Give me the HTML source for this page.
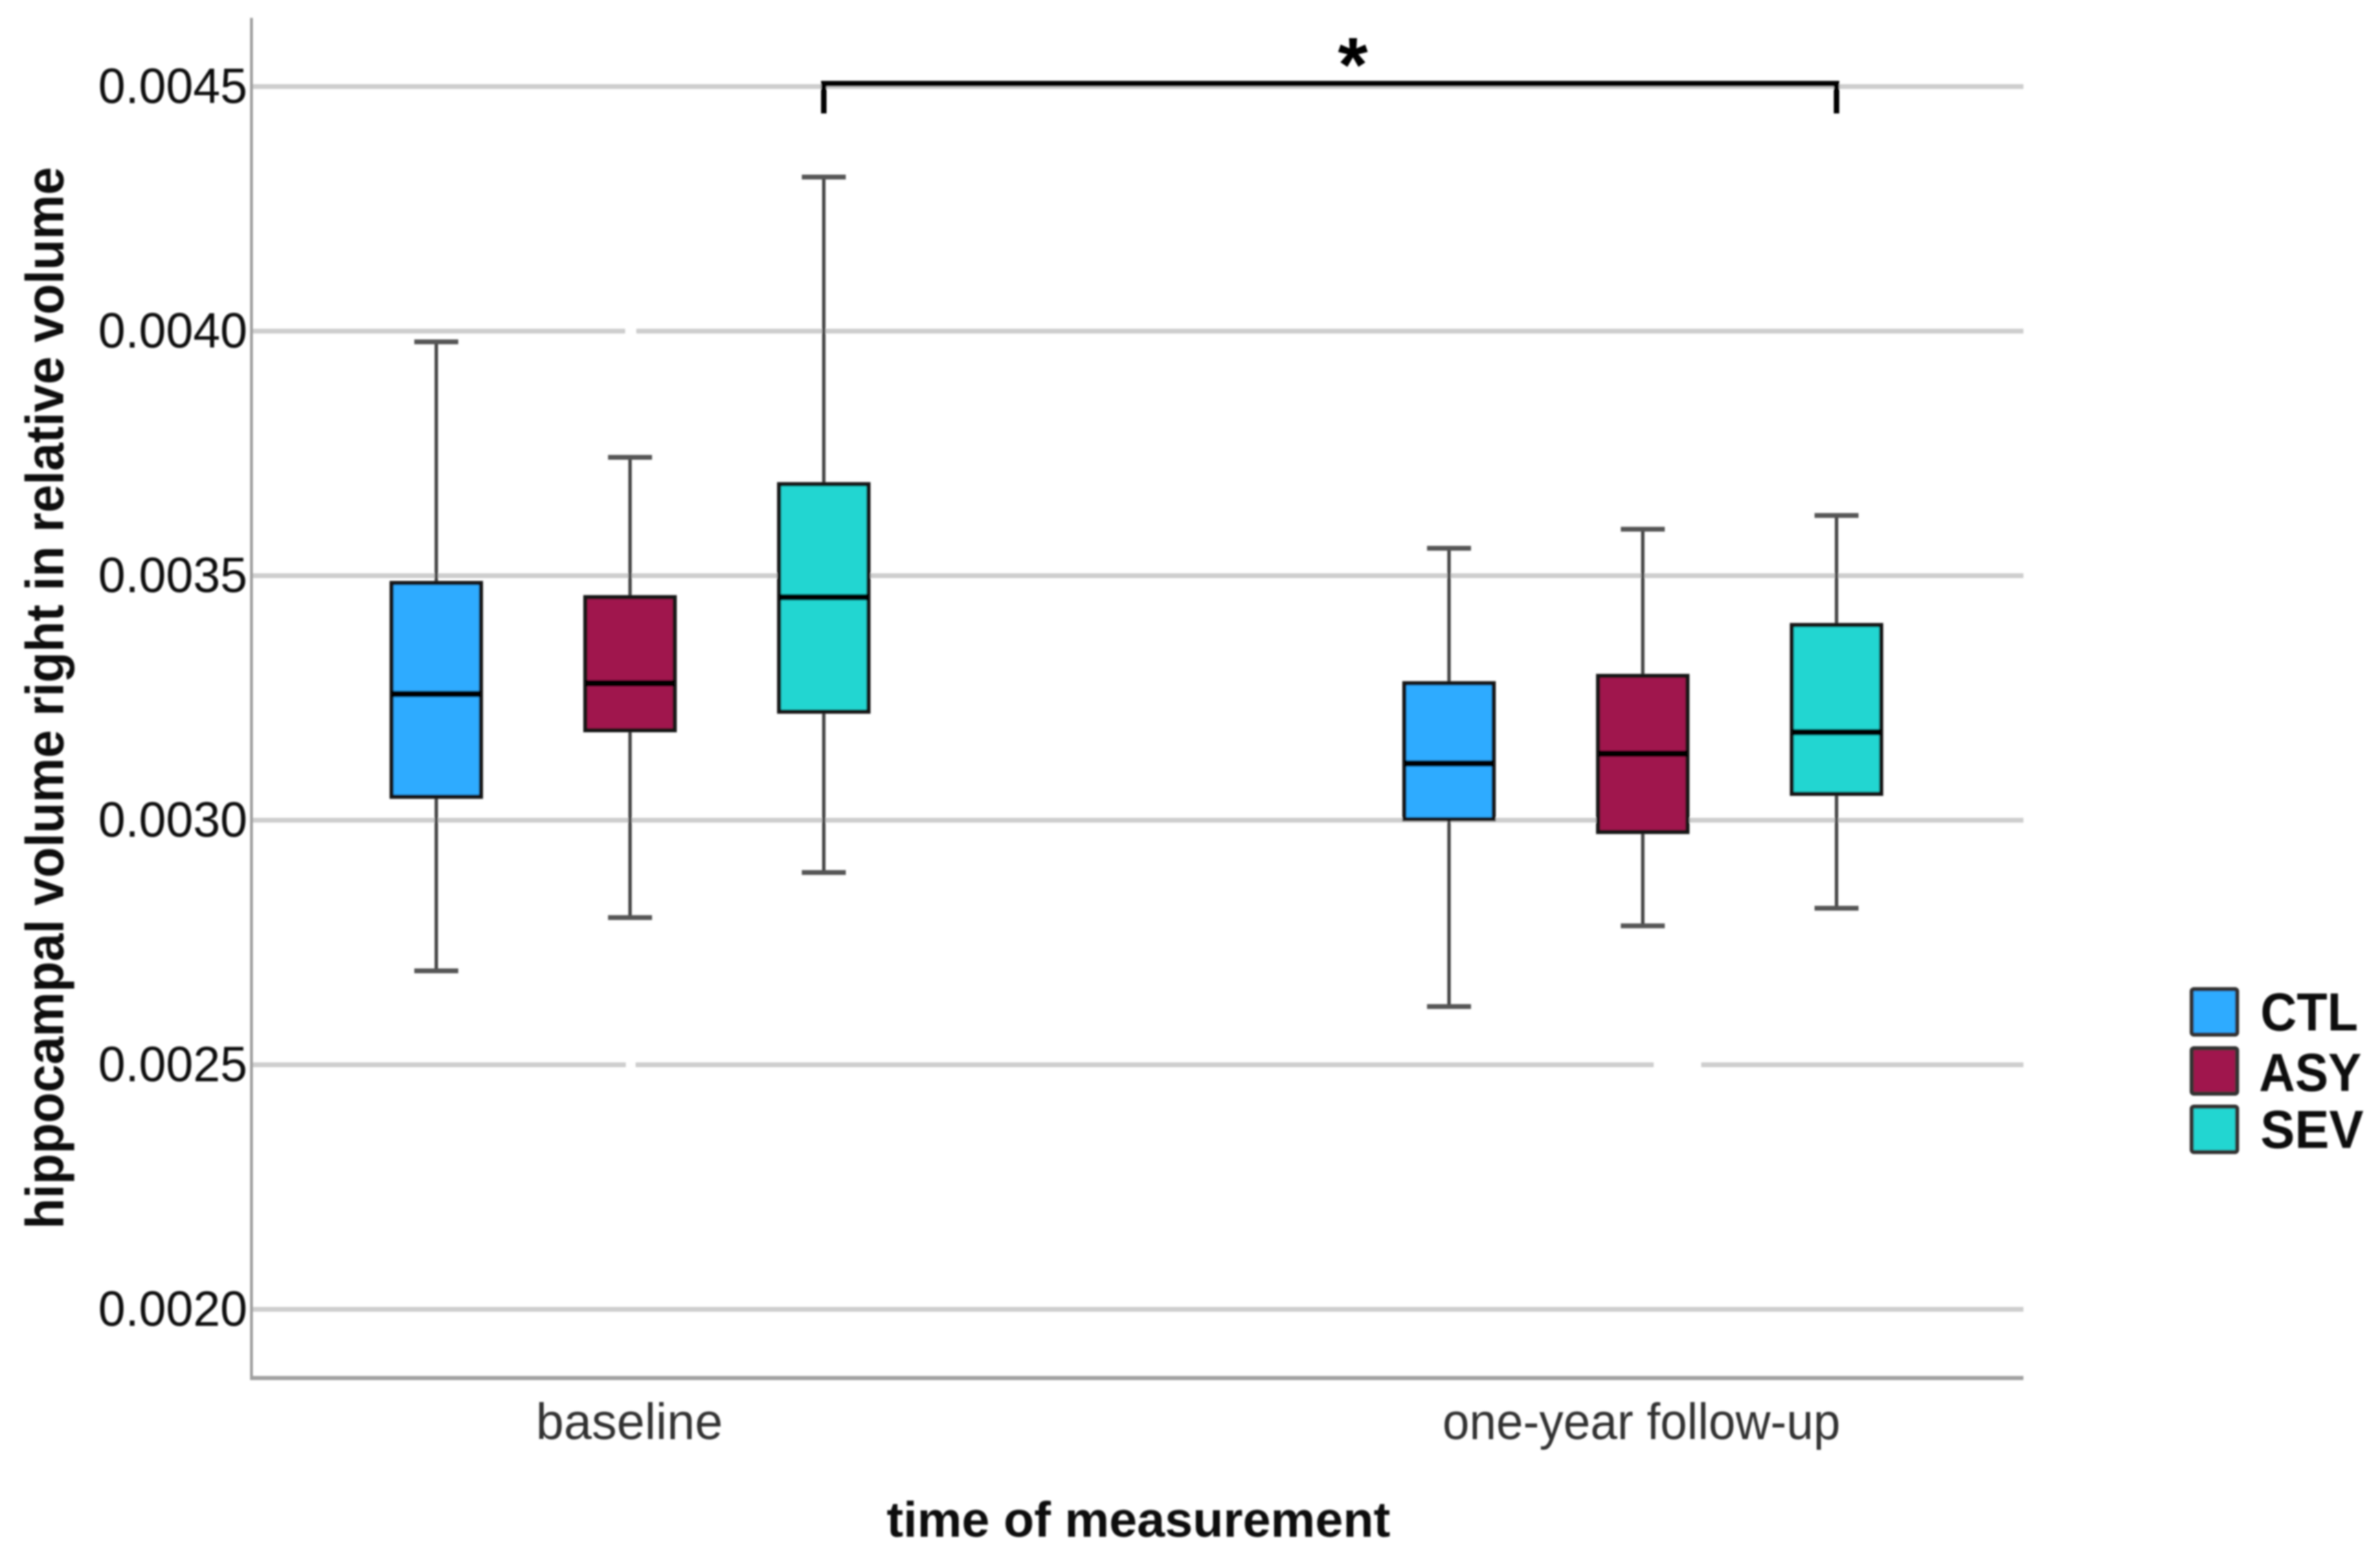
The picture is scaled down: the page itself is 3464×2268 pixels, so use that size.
<!DOCTYPE html>
<html lang="en">
<head>
<meta charset="utf-8">
<title>Hippocampal volume boxplot</title>
<style>
html,body{margin:0;padding:0;background:#fff;width:3464px;height:2268px;overflow:hidden}
svg{display:block}
text{font-family:"Liberation Sans",sans-serif}
</style>
</head>
<body>
<svg id="chart" xmlns="http://www.w3.org/2000/svg" width="3464" height="2268" viewBox="0 0 3464 2268">
  <defs>
    <filter id="soft" x="-2%" y="-2%" width="104%" height="104%">
      <feGaussianBlur stdDeviation="1.2"/>
    </filter>
  </defs>
  <rect x="0" y="0" width="3464" height="2268" fill="#fff"/>
  <g id="root" filter="url(#soft)">
    <g id="grid"></g>
    <g id="axes"></g>
    <g id="marks"></g>
    <g id="ticks"></g>
    <g id="cats"></g>
    <g id="bracket"></g>
    <g id="legend"></g>
    <text transform="translate(92,1016) rotate(-90)" text-anchor="middle" font-size="78" font-weight="700" fill="#111" textLength="1546" lengthAdjust="spacingAndGlyphs">hippocampal volume right in relative volume</text>
    <text x="1657" y="2237" text-anchor="middle" font-size="72" font-weight="700" fill="#111" textLength="733" lengthAdjust="spacingAndGlyphs">time of measurement</text>
  </g>
</svg>
<script>
// Chart data
const categories = ['baseline', 'one-year follow-up'];
const groups = ['CTL', 'ASY', 'SEV'];
const groupColors = ['#2fabff', '#a0184e', '#20d6d1'];
const tickValues = [0.0045, 0.0040, 0.0035, 0.0030, 0.0025, 0.0020];
const tickLabels = ['0.0045', '0.0040', '0.0035', '0.0030', '0.0025', '0.0020'];

const ctlHigh = [0.003978, 0.003556];
const ctlQ3 = [0.003485, 0.003280];
const ctlMedian = [0.003258, 0.003116];
const ctlQ1 = [0.003048, 0.003002];
const ctlLow = [0.002692, 0.002619];

const asyHigh = [0.003742, 0.003595];
const asyQ3 = [0.003456, 0.003295];
const asyMedian = [0.003280, 0.003136];
const asyQ1 = [0.003184, 0.002976];
const asyLow = [0.002801, 0.002784];

const sevHigh = [0.004315, 0.003623];
const sevQ3 = [0.003687, 0.003399];
const sevMedian = [0.003456, 0.003180];
const sevQ1 = [0.003222, 0.003054];
const sevLow = [0.002893, 0.002820];

const seriesHigh = [ctlHigh, asyHigh, sevHigh];
const seriesQ3 = [ctlQ3, asyQ3, sevQ3];
const seriesMedian = [ctlMedian, asyMedian, sevMedian];
const seriesQ1 = [ctlQ1, asyQ1, sevQ1];
const seriesLow = [ctlLow, asyLow, sevLow];

// Axis functions
const plotLeft = 366, plotRight = 2945, plotTop = 26, plotBottom = 2006;
function yScale(v) { return 126 + (0.0045 - v) / 0.0005 * 356; }
function xCategory(c) { return 917 + c * 1474; }
function xBox(c, s) { return xCategory(c) + (s - 1) * 282; }

const SVGNS = 'http://www.w3.org/2000/svg';
function make(parent, tag, attrs, txt) {
  const el = document.createElementNS(SVGNS, tag);
  for (const k in attrs) el.setAttribute(k, attrs[k]);
  if (txt !== undefined) el.textContent = txt;
  parent.appendChild(el);
  return el;
}
const gGrid = document.getElementById('grid');
const gAxes = document.getElementById('axes');
const gMarks = document.getElementById('marks');
const gTicks = document.getElementById('ticks');
const gCats = document.getElementById('cats');
const gBracket = document.getElementById('bracket');
const gLegend = document.getElementById('legend');

// Gridlines and y tick labels
tickValues.forEach(function (v, i) {
  const line = make(gGrid, 'line', {x1: plotLeft, x2: plotRight, y1: yScale(v), y2: yScale(v), stroke: '#cdcdcd', 'stroke-width': 7});
  
  
  const label = make(gTicks, 'text', {x: 360, y: yScale(v) + 24, 'text-anchor': 'end', 'font-size': 72, fill: '#0c0c0c', textLength: 217, lengthAdjust: 'spacingAndGlyphs'}, tickLabels[i]);
  
  
});

// Small scan artefact gaps in the gridlines
[[0.0040, 910, 16], [0.0025, 911, 14], [0.0025, 2407, 69]].forEach(function (g) {
  const gap = make(gGrid, 'rect', {x: g[1], y: yScale(g[0]) - 6, width: g[2], height: 12, fill: '#fff'});
  
  
});

// Axis lines
const yAxis = make(gAxes, 'line', {x1: plotLeft, x2: plotLeft, y1: plotTop, y2: plotBottom + 3, stroke: '#9a9a9a', 'stroke-width': 4});


const xAxis = make(gAxes, 'line', {x1: plotLeft, x2: plotRight, y1: plotBottom, y2: plotBottom, stroke: '#a0a0a0', 'stroke-width': 6});



// Category labels
const catWidths = [272, 579];
categories.forEach(function (c, i) {
  const t = make(gCats, 'text', {x: xCategory(i) - (i ? 2 : 1), y: 2095, 'text-anchor': 'middle', 'font-size': 74, fill: '#333', textLength: catWidths[i], lengthAdjust: 'spacingAndGlyphs'}, c);
  
  
});

// Boxes
const boxWidth = 130, capWidth = 64;
categories.forEach(function (c, ci) {
  groups.forEach(function (g, si) {
    const cx = xBox(ci, si);
    const hi = yScale(seriesHigh[si][ci]);
    const q3 = yScale(seriesQ3[si][ci]);
    const med = yScale(seriesMedian[si][ci]);
    const q1 = yScale(seriesQ1[si][ci]);
    const lo = yScale(seriesLow[si][ci]);
    const key = g.toLowerCase() + '-' + (ci ? 'follow-up' : 'baseline');

    const whisker = make(gMarks, 'line', {x1: cx, x2: cx, y1: hi, y2: lo, stroke: '#444', 'stroke-width': 5});
    
    

    const capHigh = make(gMarks, 'line', {x1: cx - capWidth / 2, x2: cx + capWidth / 2, y1: hi, y2: hi, stroke: '#555', 'stroke-width': 7});
    
    

    const capLow = make(gMarks, 'line', {x1: cx - capWidth / 2, x2: cx + capWidth / 2, y1: lo, y2: lo, stroke: '#555', 'stroke-width': 7});
    
    

    const box = make(gMarks, 'rect', {x: cx - boxWidth / 2, y: q3, width: boxWidth, height: q1 - q3, fill: groupColors[si], stroke: '#161616', 'stroke-width': 6});
    
    

    const median = make(gMarks, 'line', {x1: cx - boxWidth / 2, x2: cx + boxWidth / 2, y1: med, y2: med, stroke: '#000', 'stroke-width': 9});
    
    
  });
});

// Significance bracket
const bracketLeft = xBox(0, 2), bracketRight = xBox(1, 2);
const bracketTop = yScale(0.004506), bracketBottom = yScale(0.004445);
const bracketPath = make(gBracket, 'path', {d: 'M' + bracketLeft + ' ' + bracketBottom + 'V' + bracketTop + 'H' + bracketRight + 'V' + bracketBottom, fill: 'none', stroke: '#000', 'stroke-width': 8});


const star = make(gBracket, 'text', {x: (bracketLeft + bracketRight) / 2 + 33, y: 133, 'text-anchor': 'middle', 'font-size': 112, 'font-weight': 700, fill: '#000'}, '*');



// Legend
const legendSwatchY = [1438, 1524, 1609];
const legendTextY = [1500, 1588, 1671];
const legendTextX = [3290, 3288, 3290];
const legendTextW = [142, 149, 150];
groups.forEach(function (g, i) {
  const sw = make(gLegend, 'rect', {x: 3190, y: legendSwatchY[i] + 2, width: 66, height: 66, rx: 3, fill: groupColors[i], stroke: '#333', 'stroke-width': 6});
  
  
  const t = make(gLegend, 'text', {x: legendTextX[i], y: legendTextY[i], 'font-size': 78, 'font-weight': 700, fill: '#0a0a0a', textLength: legendTextW[i], lengthAdjust: 'spacingAndGlyphs'}, g);
  
  
});
</script>
</body>
</html>
